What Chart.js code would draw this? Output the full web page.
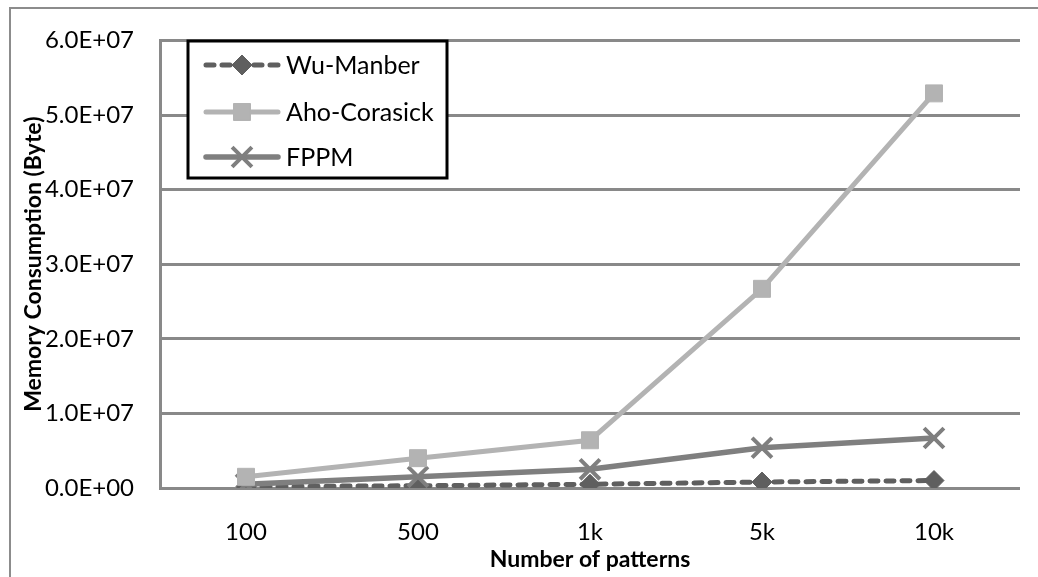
<!DOCTYPE html>
<html>
<head>
<meta charset="utf-8">
<script src="https://cdn.jsdelivr.net/npm/chart.js@4/dist/chart.umd.min.js"></script>
<style>
html,body{margin:0;padding:0;background:#fff;}
#wrap{position:relative;width:1038px;height:577px;}
</style>
</head>
<body>
<div id="wrap"><canvas id="c" width="1038" height="577"></canvas></div>
<script>
const categories = ['100', '500', '1k', '5k', '10k'];
const wuManber = [2.0e5, 3.0e5, 5.0e5, 8.0e5, 1.0e6];
const ahoCorasick = [1.5e6, 4.0e6, 6.4e6, 2.67e7, 5.29e7];
const fppm = [5.0e5, 1.5e6, 2.5e6, 5.4e6, 6.7e6];
const seriesNames = ['Wu-Manber', 'Aho-Corasick', 'FPPM'];
const yMin = 0, yMax = 6.0e7, yStep = 1.0e7;
const xTitle = 'Number of patterns';
const yTitle = 'Memory Consumption (Byte)';

const FONT = 'Lato, "Liberation Sans", sans-serif';
const GRID = '#898989';

function sci(v) {
  if (v === 0) return '0.0E+00';
  const e = Math.floor(Math.log10(Math.abs(v)) + 1e-9);
  const m = v / Math.pow(10, e);
  const es = (e < 0 ? '-' : '+') + String(Math.abs(e)).padStart(2, '0');
  return m.toFixed(1) + 'E' + es;
}

const outerBorder = {
  id: 'outerBorder',
  beforeDraw(chart) {
    const ctx = chart.ctx;
    ctx.save();
    ctx.fillStyle = '#ffffff';
    ctx.fillRect(0, 0, chart.width, chart.height);
    ctx.strokeStyle = '#8c8c8c';
    ctx.lineWidth = 2;
    ctx.beginPath();
    ctx.moveTo(10, chart.height);
    ctx.lineTo(10, 8);
    ctx.lineTo(chart.width, 8);
    ctx.stroke();
    ctx.restore();
  }
};

const boxLegend = {
  id: 'boxLegend',
  afterDraw(chart) {
    const ctx = chart.ctx;
    const x0 = 188, y0 = 41, w = 259, h = 137;
    ctx.save();
    ctx.fillStyle = '#ffffff';
    ctx.fillRect(x0, y0, w, h);
    ctx.strokeStyle = '#000000';
    ctx.lineWidth = 3;
    ctx.strokeRect(x0, y0, w, h);
    const rows = [65, 112, 157];
    chart.data.datasets.forEach((ds, i) => {
      const y = rows[i];
      ctx.save();
      ctx.strokeStyle = ds.borderColor;
      ctx.lineWidth = ds.borderWidth;
      ctx.lineCap = 'round';
      ctx.setLineDash(ds.borderDash || []);
      ctx.beginPath();
      ctx.moveTo(206, y);
      ctx.lineTo(278, y);
      ctx.stroke();
      ctx.restore();
      const opts = {
        pointStyle: ds.pointStyle,
        radius: ds.pointRadius,
        rotation: 0,
        borderWidth: ds.pointBorderWidth
      };
      ctx.save();
      ctx.fillStyle = ds.pointBackgroundColor;
      ctx.strokeStyle = ds.pointBorderColor;
      ctx.lineWidth = ds.pointBorderWidth;
      if (Chart.helpers && Chart.helpers.drawPoint) {
        Chart.helpers.drawPoint(ctx, opts, 242, y);
      }
      ctx.restore();
      ctx.fillStyle = '#000000';
      ctx.font = '25px ' + FONT;
      ctx.textAlign = 'left';
      ctx.textBaseline = 'middle';
      ctx.fillText(ds.label, 286, y + 1);
    });
    ctx.restore();
  }
};

new Chart(document.getElementById('c'), {
  type: 'line',
  data: {
    labels: categories,
    datasets: [
      {
        label: seriesNames[0], data: wuManber,
        borderColor: '#5f5f5f', backgroundColor: '#5f5f5f',
        borderWidth: 5, borderDash: [8, 8], borderCapStyle: 'round',
        pointStyle: 'rectRot', pointRadius: 10,
        pointBackgroundColor: '#5f5f5f', pointBorderColor: '#5f5f5f', pointBorderWidth: 1,
        tension: 0, order: 3
      },
      {
        label: seriesNames[1], data: ahoCorasick,
        borderColor: '#b3b3b3', backgroundColor: '#b3b3b3',
        borderWidth: 5, borderCapStyle: 'round',
        pointStyle: 'rect', pointRadius: 12,
        pointBackgroundColor: '#b3b3b3', pointBorderColor: '#b3b3b3', pointBorderWidth: 1,
        tension: 0, order: 1
      },
      {
        label: seriesNames[2], data: fppm,
        borderColor: '#7f7f7f', backgroundColor: '#7f7f7f',
        borderWidth: 5.5, borderCapStyle: 'round',
        pointStyle: 'crossRot', pointRadius: 14,
        pointBackgroundColor: '#7f7f7f', pointBorderColor: '#7f7f7f', pointBorderWidth: 4,
        tension: 0, order: 2
      }
    ]
  },
  options: {
    responsive: false,
    animation: false,
    devicePixelRatio: 1,
    layout: { padding: { left: 12, top: 40, right: 8, bottom: 0 } },
    plugins: {
      legend: { display: false },
      tooltip: { enabled: false },
      title: { display: false }
    },
    scales: {
      x: {
        type: 'category',
        offset: true,
        grid: { display: false, drawTicks: false },
        border: { display: false },
        ticks: { color: '#000', font: { family: FONT, size: 24 }, padding: 30, maxRotation: 0 },
        title: { display: true, text: xTitle, color: '#000', font: { family: FONT, size: 23, weight: 'bold' }, padding: { top: 0, bottom: 4 } },
        afterFit(s) { s.height = 89; }
      },
      y: {
        min: yMin, max: yMax,
        ticks: { stepSize: yStep, color: '#000', font: { family: FONT, size: 24 }, padding: 26, callback: (v) => sci(v) },
        grid: { color: GRID, lineWidth: 3, drawTicks: false },
        border: { display: true, color: GRID, width: 3 },
        title: { display: true, text: yTitle, color: '#000', font: { family: FONT, size: 23, weight: 'bold' }, padding: { top: 8, bottom: 0 } },
        afterFit(s) { s.width = 148; }
      }
    }
  },
  plugins: [outerBorder, boxLegend]
});
</script>
</body>
</html>
